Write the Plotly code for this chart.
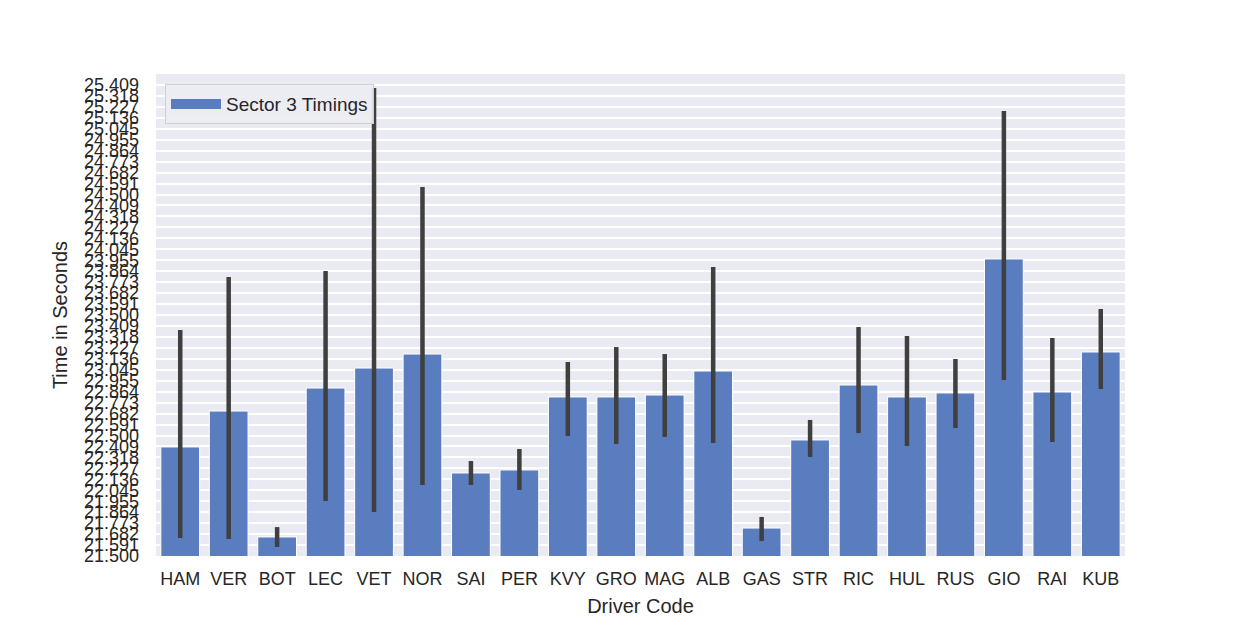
import plotly.graph_objects as go

drivers = ["HAM", "VER", "BOT", "LEC", "VET", "NOR", "SAI", "PER", "KVY", "GRO",
           "MAG", "ALB", "GAS", "STR", "RIC", "HUL", "RUS", "GIO", "RAI", "KUB"]
mean_times = [22.405, 22.703, 21.658, 22.894, 23.060, 23.176, 22.189, 22.214, 22.820, 22.820,
              22.836, 23.035, 21.732, 22.463, 22.919, 22.820, 22.853, 23.965, 22.861, 23.193]
ci_upper = [23.375, 23.815, 21.740, 23.865, 25.384, 24.562, 22.288, 22.388, 23.110, 23.234,
            23.176, 23.898, 21.824, 22.629, 23.400, 23.326, 23.135, 25.193, 23.309, 23.550]
ci_lower = [21.650, 21.641, 21.575, 21.956, 21.865, 22.089, 22.089, 22.048, 22.496, 22.430,
            22.488, 22.438, 21.624, 22.322, 22.520, 22.413, 22.562, 22.960, 22.446, 22.886]
y_ticks = [21.5 + k * 4 / 44 for k in range(44)]
y_ticklabels = [f"{v:.3f}" for v in y_ticks]

FONT = "Liberation Sans, Arial, sans-serif"
TXT = "#262626"
BAR = "#5a7dbf"

fig = go.Figure()
fig.add_trace(go.Bar(
    x=drivers, y=mean_times, name="Sector 3 Timings", showlegend=False,
    marker=dict(color=BAR, line=dict(color="white", width=1)),
    width=0.8,
    error_y=dict(type="data", symmetric=False,
                 array=[u - m for u, m in zip(ci_upper, mean_times)],
                 arrayminus=[m - l for m, l in zip(mean_times, ci_lower)],
                 color="#3f3f3f", thickness=4.5, width=0),
))
# legend-only entry with a wide rectangular swatch
fig.add_trace(go.Scatter(
    x=[None], y=[None], mode="lines", name="Sector 3 Timings",
    line=dict(color=BAR, width=14), showlegend=True,
))

fig.update_layout(
    width=1250, height=625,
    margin=dict(l=156, r=125, t=74, b=69),
    paper_bgcolor="white", plot_bgcolor="#eaeaf2",
    font=dict(family=FONT, color=TXT, size=18),
    showlegend=True,
    legend=dict(x=0.0093, y=0.979, xanchor="left", yanchor="top",
                bgcolor="rgba(236,236,243,0.9)", bordercolor="#cfcfcf", borderwidth=1,
                itemwidth=50, font=dict(size=19, color=TXT)),
    bargap=0.2,
)
fig.update_xaxes(
    range=[-0.5, 19.5], showgrid=False, zeroline=False, showline=False,
    tickfont=dict(size=18, color=TXT), ticks="", ticklabelstandoff=10,
    title=dict(text="Driver Code", font=dict(size=20, color=TXT), standoff=10),
)
fig.update_yaxes(
    range=[21.5, 25.5], tickmode="array", tickvals=y_ticks, ticktext=y_ticklabels,
    showgrid=True, gridcolor="white", gridwidth=1.5, zeroline=False, showline=False,
    tickfont=dict(size=18, color=TXT), ticks="", ticklabelstandoff=16,
    title=dict(text="Time in Seconds", font=dict(size=20, color=TXT), standoff=10),
)

fig.write_html("out.html")
